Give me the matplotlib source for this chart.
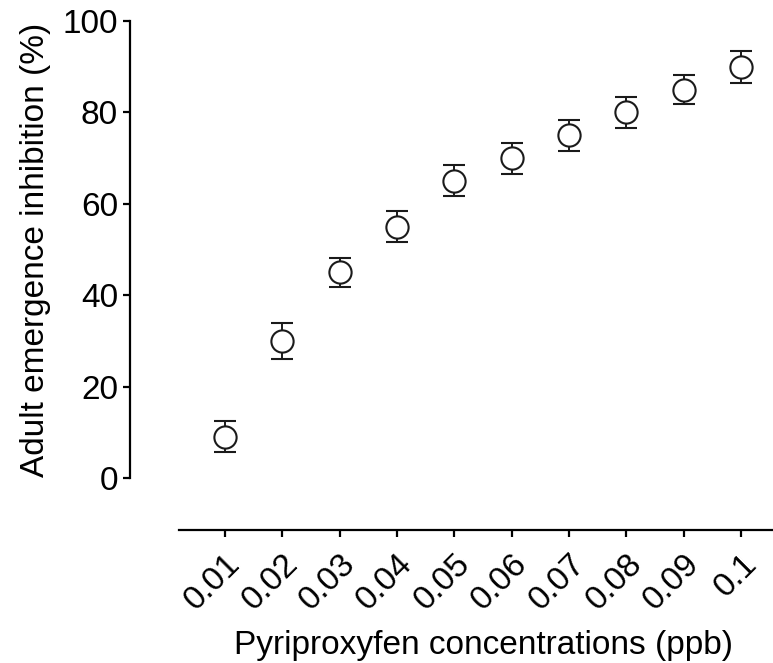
import matplotlib
matplotlib.use('Agg')
import matplotlib.pyplot as plt
import numpy as np

plt.rcParams['font.family'] = ['Liberation Sans', 'DejaVu Sans']

# concentrations (ppb) and mean inhibition with error
concentrations = ['0.01', '0.02', '0.03', '0.04', '0.05', '0.06', '0.07', '0.08', '0.09', '0.1']
inhibition = [9, 30, 45, 55, 65, 70, 75, 80, 85, 90]
error = [3.4, 4.0, 3.2, 3.4, 3.4, 3.4, 3.4, 3.4, 3.2, 3.5]

fig = plt.figure(figsize=(7.73, 6.63), dpi=100)
ax = fig.add_axes([179 / 773, 1 - 478 / 663, 608 / 773, 457 / 663])

# spines first - set_position resets tick settings
for s in ['top', 'right']:
    ax.spines[s].set_visible(False)
ax.spines['left'].set_position(('outward', 35))
ax.spines['bottom'].set_position(('outward', 37.5))
for s in ['left', 'bottom']:
    ax.spines[s].set_linewidth(1.6)

x = np.arange(len(concentrations))
ax.errorbar(x, inhibition, yerr=error, fmt='o', ms=16, mfc='white', mec='#1a1a1a',
            mew=1.5, ecolor='#1a1a1a', elinewidth=1.4, capsize=7.8, capthick=1.4,
            zorder=3)

ax.set_xlim(-0.8, 9.8)
ax.set_ylim(0, 100)
ax.set_yticks([0, 20, 40, 60, 80, 100])
ax.set_xticks(x)
ax.set_xticklabels(concentrations, rotation=45, ha='right', rotation_mode='anchor')

ax.tick_params(axis='both', labelsize=24, width=1.6, length=5, direction='out', color='black')
ax.tick_params(axis='x', pad=8)
ax.tick_params(axis='y', pad=4)

ax.set_ylabel('Adult emergence inhibition (%)', fontsize=24, labelpad=8)
ax.set_xlabel('Pyriproxyfen concentrations (ppb)', fontsize=24, labelpad=10)

fig.savefig('out.png', dpi=100)
